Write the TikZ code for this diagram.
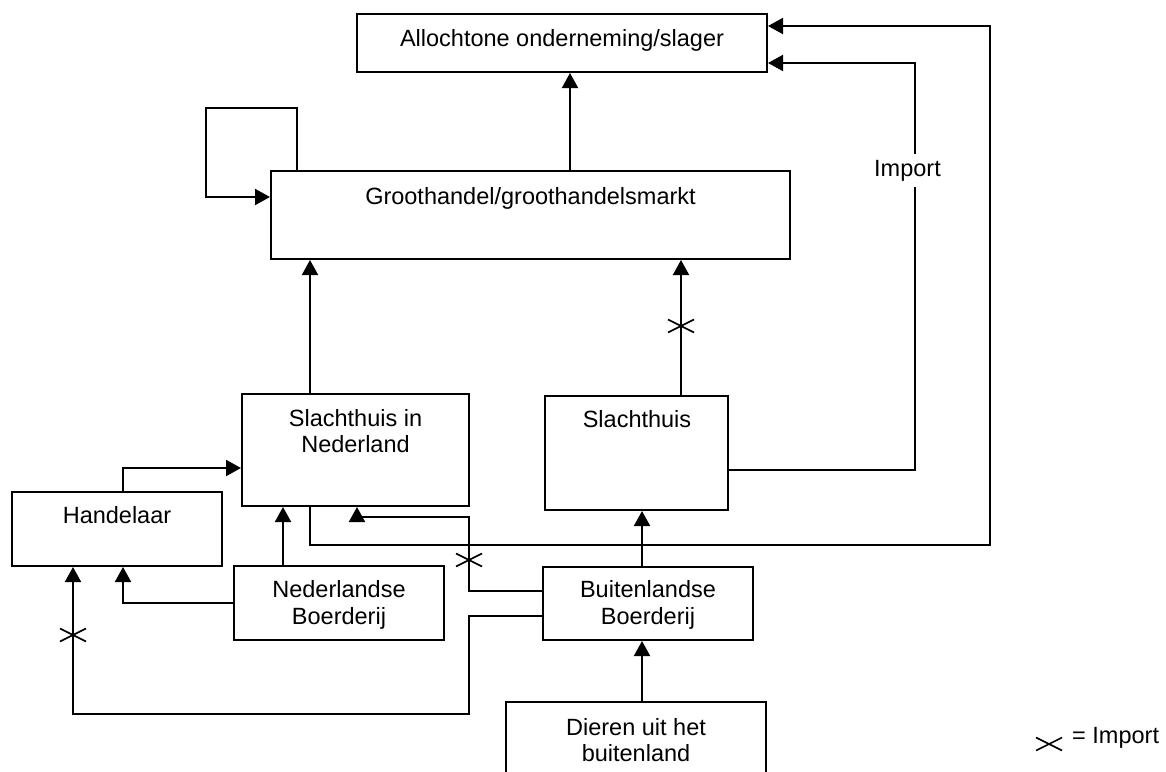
\documentclass[tikz,border=0pt]{standalone}
\usepackage{fontspec}
\setmainfont{Liberation Sans}
\usetikzlibrary{arrows.meta,calc}
\begin{document}
\begin{tikzpicture}[x=1pt,y=-1pt,
  box/.style={draw, rectangle, inner sep=0pt, line width=2pt},
  txt/.style={inner sep=0pt, align=center, font=\fontsize{23.5}{26.7}\selectfont},
  conn/.style={line width=2pt},
  arr/.style={conn, -{Triangle[length=15pt,width=16pt]}},
  crossline/.style={line width=1.6pt},
  impx/.pic={\draw[crossline] (-13,-6.5) -- (13,6.5) (-13,6.5) -- (13,-6.5);}
]
\clip (0,0) rectangle (1166,771);
\fill[white] (0,0) rectangle (1166,771);

% boxes
\node[box, minimum width=410pt, minimum height=58pt] (allo) at (562,43) {};
\node[box, minimum width=519pt, minimum height=88pt] (gh) at (530.5,215) {};
\node[box, minimum width=227pt, minimum height=112pt] (snl) at (355.5,450) {};
\node[box, minimum width=183pt, minimum height=114pt] (sl) at (636.5,453) {};
\node[box, minimum width=210pt, minimum height=74pt] (han) at (117,529) {};
\node[box, minimum width=210pt, minimum height=74pt] (nb) at (339,603) {};
\node[box, minimum width=210pt, minimum height=73pt] (bb) at (648,603.5) {};
\node[box, minimum width=260pt, minimum height=98pt] (di) at (636,751) {};

% texts (base anchor = baseline of the last line)
\node[txt, anchor=base] (allot) at (562,46) {Allochtone onderneming/slager};
\node[txt, anchor=base] (ght) at (530.5,204) {Groothandel/groothandelsmarkt};
\node[txt, anchor=base] (snlt) at (355.5,452.7) {Slachthuis in\\Nederland};
\node[txt, anchor=base] (slt) at (637,427) {Slachthuis};
\node[txt, anchor=base] (hant) at (117,523) {Handelaar};
\node[txt, anchor=base] (nbt) at (339,624) {Nederlandse\\Boerderij};
\node[txt, anchor=base] (bbt) at (648,624) {Buitenlandse\\Boerderij};
\node[txt, anchor=base] (dit) at (636,761.7) {Dieren uit het\\buitenland};

% connectors
\draw[arr] (570,0 |- gh.north) -- (570,0 |- allo.south);
\draw[arr] (297,0 |- gh.north) |- (206,108) |- (gh.west |- 0,197);
\draw[arr] (310,0 |- snl.north) -- (310,0 |- gh.south);
\draw[arr] (681,0 |- sl.north) -- (681,0 |- gh.south);
\draw[arr] (sl.east |- 0,470) -| (915,63) -- (allo.east |- 0,63);
\draw[arr] (310,0 |- snl.south) |- (990,545) |- (allo.east |- 0,26);
\draw[arr] (123,0 |- han.north) |- (snl.west |- 0,468);
\draw[arr] (283,0 |- nb.north) -- (283,0 |- snl.south);
\draw[arr] (nb.west |- 0,603) -| (123,0 |- han.south);
\draw[arr] (bb.west |- 0,591) -| (469,517) -| (357,0 |- snl.south);
\draw[arr] (bb.west |- 0,616) -| (469,714) -| (73,0 |- han.south);
\draw[arr] (642,0 |- bb.north) -- (642,0 |- sl.south);
\draw[arr] (642,0 |- di.north) -- (642,0 |- bb.south);

% import label on the line
\node[txt, fill=white, inner xsep=0pt, inner ysep=6pt, anchor=base west] (imp) at (874,176) {Import};

% import crosses
\pic at (681,326) {impx};
\pic at (469,560) {impx};
\pic at (73,635) {impx};

% legend
\pic at (1049,744) {impx};
\node[txt, anchor=base west] (leg) at (1072,743) {= Import};
\end{tikzpicture}
\end{document}
